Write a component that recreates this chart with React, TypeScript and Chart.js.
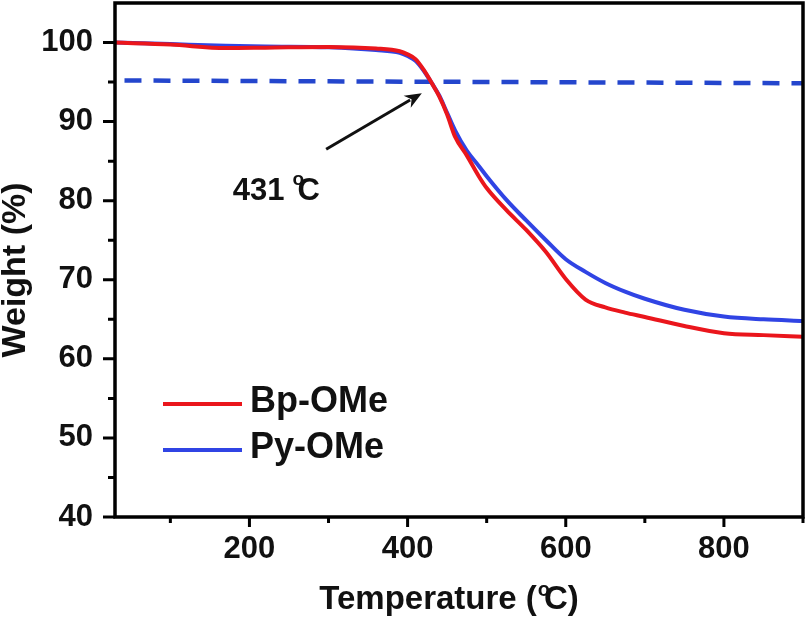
import React, { useEffect, useRef } from 'react';
import { Chart, registerables } from 'chart.js';

Chart.register(...registerables);

// ---- data ----
const temperatures = [30, 100, 170, 220, 300, 360, 390, 400, 410, 420, 431, 440, 450, 460, 475, 490, 500, 525, 550, 575, 600, 625, 650, 675, 700, 750, 800, 850, 900];
const bpOMe = [100, 99.75, 99.3, 99.35, 99.45, 99.25, 98.9, 98.5, 97.9, 96.6, 94.8, 93.2, 90.9, 88.1, 85.7, 83.1, 81.6, 78.8, 76.3, 73.5, 70.1, 67.5, 66.5, 65.85, 65.3, 64.15, 63.25, 63.0, 62.8];
const pyOMe = [100, 99.8, 99.6, 99.5, 99.4, 99.05, 98.7, 98.3, 97.7, 96.5, 94.8, 93.3, 91.1, 88.9, 86.3, 84.4, 83.1, 80.1, 77.5, 75.0, 72.6, 71.0, 69.6, 68.5, 67.6, 66.2, 65.35, 65.0, 64.8];
const thresholdTemps = [42, 900];
const thresholdWeights = [95.2, 94.85];
const seriesLabels = ['Bp-OMe', 'Py-OMe'];
const xTickValues = [200, 400, 600, 800];
const xMinorTickValues = [100, 300, 500, 700, 900];
const yTickValues = [40, 50, 60, 70, 80, 90, 100];
const yMinorTickValues = [45, 55, 65, 75, 85, 95];
const annotationValue = '431';
const annotationAt = { x: 179, y: 80.1 };
const arrowFrom = { x: 297, y: 86.5 };
const arrowTo = { x: 418, y: 93.6 };

const RED = 'rgb(234,22,28)';
const BLUE = 'rgb(48,68,228)';
const DASH_BLUE = 'rgb(36,70,205)';
const FONT = '"Liberation Sans", Arial, Helvetica, sans-serif';

const overlayPlugin = {
  id: 'overlay',
  afterDraw(chart: any) {
    const { ctx, chartArea, scales } = chart;
    const xs = scales.x;
    const ys = scales.y;
    const { left, right, top, bottom } = chartArea;
    ctx.save();
    // frame
    ctx.strokeStyle = '#000';
    ctx.lineWidth = 3.5;
    ctx.strokeRect(left, top, right - left, bottom - top);
    // ticks
    ctx.lineWidth = 3;
    ctx.beginPath();
    xTickValues.forEach((v) => {
      const px = xs.getPixelForValue(v);
      ctx.moveTo(px, bottom); ctx.lineTo(px, bottom + 10);
    });
    xMinorTickValues.forEach((v) => {
      const px = xs.getPixelForValue(v);
      ctx.moveTo(px, bottom); ctx.lineTo(px, bottom + 6);
    });
    yTickValues.forEach((v) => {
      const py = ys.getPixelForValue(v);
      ctx.moveTo(left, py); ctx.lineTo(left - 12, py);
    });
    yMinorTickValues.forEach((v) => {
      const py = ys.getPixelForValue(v);
      ctx.moveTo(left, py); ctx.lineTo(left - 7, py);
    });
    ctx.stroke();

    // arrow
    const ax0 = xs.getPixelForValue(arrowFrom.x), ay0 = ys.getPixelForValue(arrowFrom.y);
    const ax1 = xs.getPixelForValue(arrowTo.x), ay1 = ys.getPixelForValue(arrowTo.y);
    const ang = Math.atan2(ay1 - ay0, ax1 - ax0);
    const headLen = 17, headW = 7;
    ctx.strokeStyle = '#111';
    ctx.fillStyle = '#111';
    ctx.lineWidth = 3;
    ctx.beginPath();
    ctx.moveTo(ax0, ay0);
    ctx.lineTo(ax1 - Math.cos(ang) * headLen * 0.8, ay1 - Math.sin(ang) * headLen * 0.8);
    ctx.stroke();
    ctx.beginPath();
    ctx.moveTo(ax1, ay1);
    ctx.lineTo(ax1 - Math.cos(ang) * headLen + Math.sin(ang) * headW, ay1 - Math.sin(ang) * headLen - Math.cos(ang) * headW);
    ctx.lineTo(ax1 - Math.cos(ang) * headLen * 0.7, ay1 - Math.sin(ang) * headLen * 0.7);
    ctx.lineTo(ax1 - Math.cos(ang) * headLen - Math.sin(ang) * headW, ay1 - Math.sin(ang) * headLen + Math.cos(ang) * headW);
    ctx.closePath();
    ctx.fill();

    // annotation "431 °C"
    ctx.fillStyle = '#111';
    ctx.textBaseline = 'alphabetic';
    ctx.textAlign = 'left';
    const tx = xs.getPixelForValue(annotationAt.x), ty = ys.getPixelForValue(annotationAt.y);
    ctx.font = `bold 31px ${FONT}`;
    ctx.fillText(annotationValue, tx, ty);
    const w431 = ctx.measureText(annotationValue).width;
    const ox = tx + w431 + 8;
    ctx.font = `bold 19px ${FONT}`;
    ctx.fillText('o', ox, ty - 15);
    ctx.font = `bold 31px ${FONT}`;
    ctx.fillText('C', ox + 5, ty);

    // legend
    const legendColors = [RED, BLUE];
    seriesLabels.forEach((lab, i) => {
      const ly = bottom - 113 + i * 46;
      ctx.strokeStyle = legendColors[i];
      ctx.lineWidth = 4;
      ctx.beginPath();
      ctx.moveTo(left + 48, ly);
      ctx.lineTo(left + 127, ly);
      ctx.stroke();
      ctx.fillStyle = '#111';
      ctx.font = `bold 36px ${FONT}`;
      ctx.textBaseline = 'middle';
      ctx.fillText(lab, left + 135, ly - 2);
    });

    // x axis title
    ctx.textBaseline = 'alphabetic';
    ctx.fillStyle = '#111';
    const p1 = 'Temperature (';
    const p3 = 'C)';
    ctx.font = `bold 33px ${FONT}`;
    const w1 = ctx.measureText(p1).width;
    const w3 = ctx.measureText(p3).width;
    ctx.font = `bold 20px ${FONT}`;
    const w2 = ctx.measureText('o').width;
    const total = w1 + 1 + w2 * 0.5 + w3;
    const cx = (left + right) / 2 - 10;
    const x0 = cx - total / 2;
    const by = bottom + 92;
    ctx.font = `bold 33px ${FONT}`;
    ctx.fillText(p1, x0, by);
    ctx.font = `bold 20px ${FONT}`;
    ctx.fillText('o', x0 + w1 + 1, by - 13);
    ctx.font = `bold 33px ${FONT}`;
    ctx.fillText(p3, x0 + w1 + 1 + w2 * 0.5, by);

    // y axis title
    ctx.save();
    ctx.translate(25, (top + bottom) / 2 + 10);
    ctx.rotate(-Math.PI / 2);
    ctx.textAlign = 'center';
    ctx.textBaseline = 'alphabetic';
    ctx.font = `bold 34px ${FONT}`;
    ctx.fillText('Weight (%)', 0, 0);
    ctx.restore();

    ctx.restore();
  },
};

export default function App() {
  const canvasRef = useRef<HTMLCanvasElement | null>(null);

  useEffect(() => {
    document.body.style.margin = '0';
    const canvas = canvasRef.current;
    if (!canvas) return;
    const chart = new Chart(canvas, {
      type: 'line',
      data: {
        datasets: [
          {
            label: seriesLabels[0],
            data: temperatures.map((t, i) => ({ x: t, y: bpOMe[i] })),
            borderColor: RED,
            borderWidth: 4,
            pointRadius: 0,
            cubicInterpolationMode: 'monotone',
            fill: false,
          },
          {
            label: seriesLabels[1],
            data: temperatures.map((t, i) => ({ x: t, y: pyOMe[i] })),
            borderColor: BLUE,
            borderWidth: 4,
            pointRadius: 0,
            cubicInterpolationMode: 'monotone',
            fill: false,
            order: 1,
          },
          {
            label: 'T5%',
            data: thresholdTemps.map((t, i) => ({ x: t, y: thresholdWeights[i] })),
            borderColor: DASH_BLUE,
            borderWidth: 4.5,
            borderDash: [17, 12],
            pointRadius: 0,
            fill: false,
            order: 2,
          },
        ],
      },
      options: {
        animation: false,
        responsive: true,
        maintainAspectRatio: false,
        layout: { padding: { top: 3, right: 7, left: 0, bottom: 0 } },
        plugins: { legend: { display: false }, tooltip: { enabled: false } },
        scales: {
          x: {
            type: 'linear',
            min: 30,
            max: 900,
            grid: { display: false, drawTicks: false },
            border: { display: false },
            afterBuildTicks: (s: any) => { s.ticks = xTickValues.map((v) => ({ value: v })); },
            afterFit: (s: any) => { s.height = 100; s.paddingLeft = 0; s.paddingRight = 0; },
            ticks: {
              color: '#111',
              padding: 14,
              maxRotation: 0,
              font: { family: FONT, size: 31, weight: 'bold' },
            },
          },
          y: {
            type: 'linear',
            min: 40,
            max: 105,
            grid: { display: false, drawTicks: false },
            border: { display: false },
            afterBuildTicks: (s: any) => { s.ticks = yTickValues.map((v) => ({ value: v })); },
            afterFit: (s: any) => { s.width = 115; s.paddingTop = 0; s.paddingBottom = 0; },
            ticks: {
              color: '#111',
              padding: 22,
              font: { family: FONT, size: 31, weight: 'bold' },
            },
          },
        },
      },
      plugins: [overlayPlugin],
    } as any);
    return () => chart.destroy();
  }, []);

  return (
    <div style={{ width: 810, height: 617, position: 'relative' }}>
      <canvas ref={canvasRef} />
    </div>
  );
}
